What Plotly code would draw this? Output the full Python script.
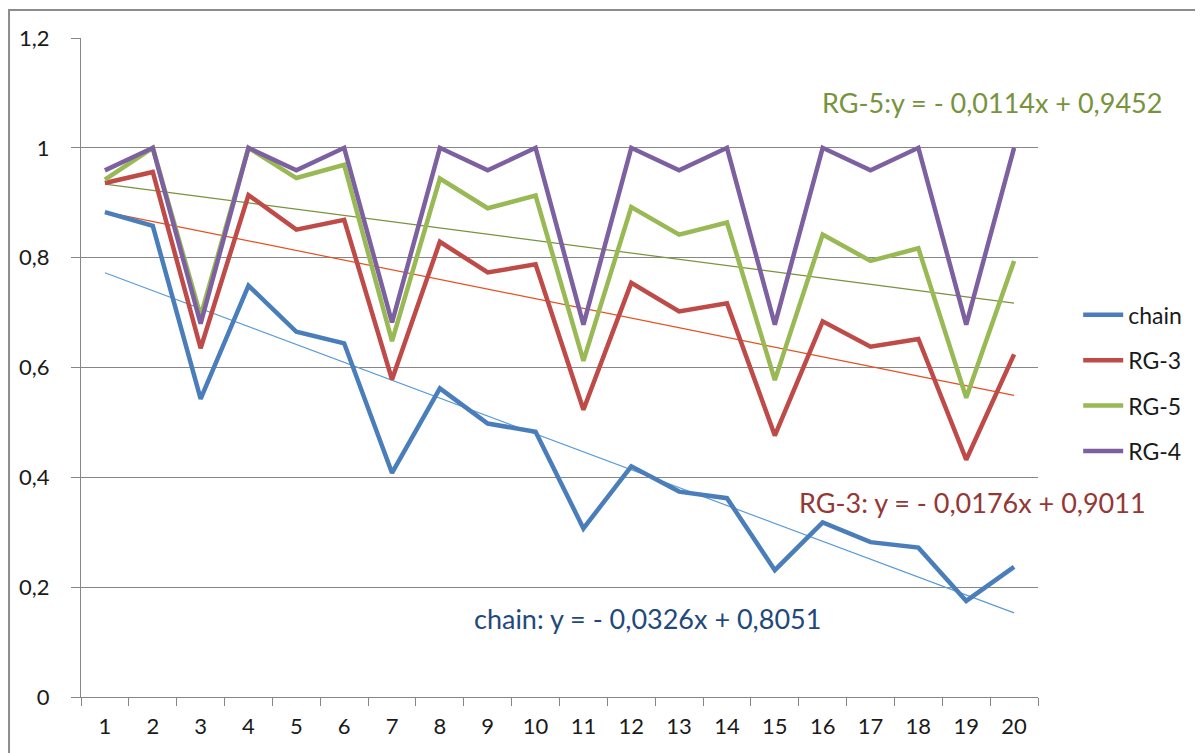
import plotly.graph_objects as go

categories = [str(i) for i in range(1, 21)]

chain = [0.883, 0.858, 0.543, 0.749, 0.665, 0.644, 0.408, 0.562, 0.498, 0.483,
         0.307, 0.420, 0.374, 0.362, 0.231, 0.318, 0.282, 0.272, 0.175, 0.237]
rg3 = [0.936, 0.956, 0.635, 0.914, 0.851, 0.869, 0.578, 0.829, 0.773, 0.788,
       0.523, 0.754, 0.702, 0.717, 0.476, 0.684, 0.638, 0.652, 0.432, 0.624]
rg5 = [0.942, 1.0, 0.694, 1.0, 0.945, 0.969, 0.648, 0.944, 0.890, 0.913,
       0.612, 0.892, 0.842, 0.864, 0.577, 0.842, 0.794, 0.817, 0.545, 0.794]
rg4 = [0.959, 1.0, 0.680, 1.0, 0.959, 1.0, 0.682, 1.0, 0.959, 1.0,
       0.678, 1.0, 0.959, 1.0, 0.678, 1.0, 0.959, 1.0, 0.678, 1.0]

# Trendline coefficients (slope, intercept), as printed on the chart
chain_trend = (-0.0326, 0.8051)
rg3_trend = (-0.0176, 0.9011)
rg5_trend = (-0.0114, 0.9452)

xnum = list(range(1, 21))


def trend(coef):
    return [coef[0] * x + coef[1] for x in xnum]


FONT = "Lato"

fig = go.Figure()

# trendlines (thin, drawn below the series)
fig.add_trace(go.Scatter(x=categories, y=trend(chain_trend), mode="lines",
                         line=dict(color="#5B9BD5", width=1.2), showlegend=False, hoverinfo="skip"))
fig.add_trace(go.Scatter(x=categories, y=trend(rg3_trend), mode="lines",
                         line=dict(color="#E5501E", width=1.2), showlegend=False, hoverinfo="skip"))
fig.add_trace(go.Scatter(x=categories, y=trend(rg5_trend), mode="lines",
                         line=dict(color="#77933C", width=1.2), showlegend=False, hoverinfo="skip"))

series = [("chain", chain, "#4A7EBB"), ("RG-3", rg3, "#BE4B48"),
          ("RG-5", rg5, "#98B954"), ("RG-4", rg4, "#7D60A0")]
for name, vals, col in series:
    fig.add_trace(go.Scatter(x=categories, y=vals, mode="lines", name=name,
                             legendgroup=name,
                             line=dict(color=col, width=4.5)))

fig.update_layout(
    width=1195, height=745,
    margin=dict(l=73, r=165, t=30, b=56),
    paper_bgcolor="white", plot_bgcolor="white",
    separators=", ",
    font=dict(family=FONT, size=22, color="#1a1a1a"),
    legend=dict(x=1.042, xanchor="left", y=0.476, yanchor="middle",
                font=dict(family=FONT, size=23, color="#1a1a1a"),
                tracegroupgap=12.5, traceorder="grouped",
                bgcolor="rgba(0,0,0,0)", itemwidth=40),
    xaxis=dict(type="category", tickson="boundaries", ticks="outside", ticklen=8,
               tickcolor="#868686", showline=True, linecolor="#868686", linewidth=1,
               showgrid=False, tickfont=dict(family=FONT, size=22, color="#1a1a1a"),
               range=[-0.5, 19.5], fixedrange=True, ticklabelstandoff=10),
    yaxis=dict(range=[0, 1.2], dtick=0.2, tick0=0, ticks="outside", ticklen=9,
               tickcolor="#868686", showline=True, linecolor="#868686", linewidth=1,
               showgrid=True, gridcolor="#868686", gridwidth=1, zeroline=False,
               tickfont=dict(family=FONT, size=22, color="#1a1a1a"), ticklabelstandoff=17),
)

# chart border
fig.add_shape(type="rect", xref="paper", yref="paper",
              x0=-0.0752, x1=1.2, y0=-0.12, y1=1.0425,
              line=dict(color="#8C8C8C", width=2), fillcolor="rgba(0,0,0,0)", layer="below")

annotations = [
    ("RG-5:y = - 0,0114x + 0,9452", "#77933C", 820, 102),
    ("RG-3: y = - 0,0176x + 0,9011", "#953735", 797, 502),
    ("chain: y = - 0,0326x + 0,8051", "#1F497D", 472, 618),
]
for txt, col, px, py in annotations:
    fig.add_annotation(text=txt, xref="paper", yref="paper",
                       x=(px - 81) / 957, y=(697 - py) / 659,
                       xanchor="left", yanchor="middle", showarrow=False,
                       font=dict(family=FONT, size=27, color=col))

fig.write_html("out.html")
